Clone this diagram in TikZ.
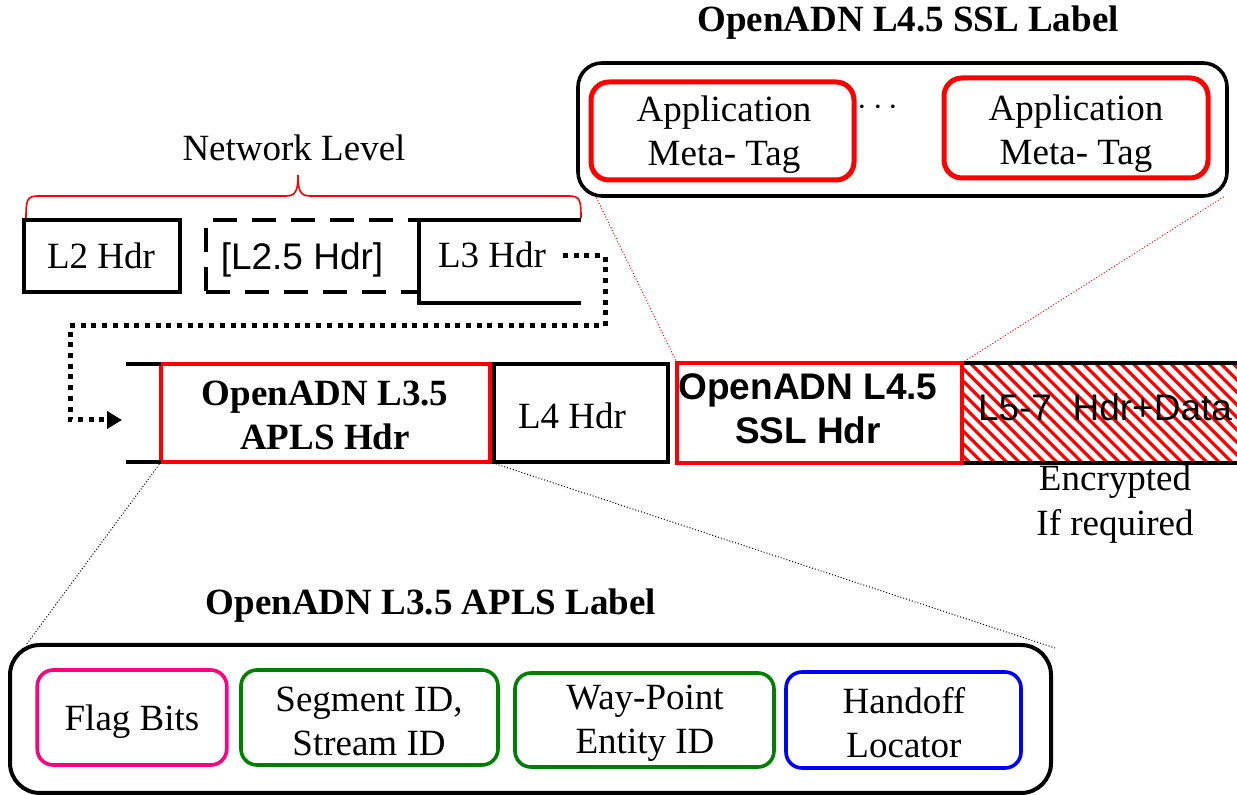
\documentclass[tikz,border=0pt]{standalone}
\usepackage{fontspec}
\setmainfont{Liberation Serif}
\newfontfamily\arialfont{Liberation Sans}
\usetikzlibrary{arrows.meta}

\definecolor{tagred}{RGB}{255,0,0}
\definecolor{flagpink}{RGB}{255,0,128}
\definecolor{idgreen}{RGB}{0,128,0}
\definecolor{locblue}{RGB}{0,0,255}

\begin{document}
\begin{tikzpicture}[x=0.5pt,y=-0.5pt,
  every node/.style={inner sep=0pt, outer sep=0pt},
  serif/.style={font=\fontsize{18.5}{22}\selectfont, align=center},
  serifbold/.style={font=\fontsize{18.5}{22}\selectfont\bfseries, align=center},
  sans/.style={font=\fontsize{18.5}{22}\selectfont\arialfont, align=center},
  sansbold/.style={font=\fontsize{18.5}{22}\selectfont\arialfont\bfseries, align=center},
  hdrbox/.style={draw=black, line width=2pt},
  frame/.style={line width=2pt, black},
  redhdr/.style={draw=tagred, line width=2.3pt},
  outerbox/.style={draw=black, line width=1.8pt, rounded corners=12pt},
  tagbox/.style={draw=tagred, line width=2.5pt, rounded corners=9pt},
  fieldbox/.style={line width=1.8pt, rounded corners=8pt},
  dotarrow/.style={line width=2.5pt, dash pattern=on 2.5pt off 2.85pt,
                   -{Triangle[length=7.5pt,width=8.5pt]}},
  zoomline/.style={line width=0.5pt, densely dotted},
]
\useasboundingbox (0,0) rectangle (1237,795);

% ---------- network level headers ----------
\node[serif] (netlvl) at (294,148) {Network Level};
\draw[tagred, line width=0.8pt]
  (26,218) .. controls (26,200) and (27,196) .. (38,196) -- (286,196)
  .. controls (296,196) and (298,190) .. (298,175)
  .. controls (298,190) and (300,196) .. (310,196) -- (569,196)
  .. controls (580,196) and (581,200) .. (581,218);

\node[hdrbox, minimum width=78pt, minimum height=36pt] (l2) at (102,256) {};
\node[serif] (l2t) at (101,256) {L2 Hdr};

\node[draw=black, line width=2pt, dash pattern=on 12pt off 7.5pt,
      minimum width=106.75pt, minimum height=36pt] (l25) at (312.25,256) {};
\node[sans] (l25t) at (302,260) {[L2.5 Hdr]};

\node[minimum width=81pt, minimum height=41.5pt] (l3) at (500,261.5) {};
\draw[frame] (l3.north east) -- (l3.north west) -- (l3.south west) -- (l3.south east);
\node[serif] (l3t) at (492,255) {L3 Hdr};

% ---------- dotted link down to the packet ----------
\coordinate (d1) at (563,256);
\coordinate (d2) at (605,256);
\coordinate (d3) at (605,326);
\coordinate (d4) at (70,326);
\coordinate (d5) at (70,420);
\coordinate (d6) at (122,420);
\draw[dotarrow] (d1) -- (d2) -- (d3) -- (d4) -- (d5) -- (d6);

% ---------- packet ----------
\coordinate (b1) at (126,364);
\coordinate (b2) at (126,462);

\node[minimum width=141.5pt, minimum height=50pt] (data) at (1103.5,413) {};
\begin{scope}
  \clip (962,363) rectangle (1245,463);
  \foreach \c in {-125,-112.5,...,300}
    \draw[tagred, line width=1.6pt] (962+\c,355) -- ++(116,116);
\end{scope}
\draw[frame] (data.north west) -- (data.north east);
\draw[frame] (data.south west) -- (data.south east);
\node[sans] (datat) at (1105,407) {L5-7\ \ Hdr+Data};
\node[serif, font=\fontsize{18.5}{22.5}\selectfont] (enc) at (1115,504) {Encrypted\\If required};

\node[redhdr, minimum width=164.5pt, minimum height=49pt] (apls) at (325.5,413) {};
\draw[frame] (b1) -- (apls.north west);
\draw[frame] (b2) -- (apls.south west);
\node[serifbold] (aplst) at (325,415) {OpenADN L3.5\\APLS Hdr};

\node[hdrbox, minimum width=87pt, minimum height=49pt] (l4) at (581,413) {};
\node[serif] (l4t) at (572,416) {L4 Hdr};

\node[redhdr, minimum width=142.5pt, minimum height=50pt] (ssl) at (819.5,413) {};
\node[sansbold] (sslt) at (808,409) {OpenADN L4.5\\SSL Hdr};

% ---------- SSL label ----------
\node[serifbold] (ssltitle) at (908,23) {OpenADN L4.5 SSL Label};
\node[outerbox, minimum width=324.5pt, minimum height=66.5pt] (sslbox) at (902.5,129.5) {};
\node[tagbox, minimum width=131.5pt, minimum height=49pt] (tag1) at (722.5,131) {};
\node[serif] (tag1t) at (724,135) {Application\\Meta- Tag};
\node[tagbox, minimum width=132pt, minimum height=50pt] (tag2) at (1076,128) {};
\node[serif] (tag2t) at (1076,134) {Application\\Meta- Tag};
\node[font=\fontsize{16}{19}\selectfont] (dots) at (878,108) {$\cdots$};

\coordinate (s1) at (596,197);
\coordinate (s2) at (1225,196);
\draw[zoomline, tagred] (ssl.north west) -- (s1);
\draw[zoomline, tagred] (ssl.north east) -- (s2);

% ---------- APLS label ----------
\node[serifbold] (aplstitle) at (431,606) {OpenADN L3.5 APLS Label};
\node[outerbox, rounded corners=15pt, line width=2pt,
      minimum width=520.5pt, minimum height=74pt] (aplsbox) at (530.5,719) {};
\node[fieldbox, draw=flagpink, minimum width=94.75pt, minimum height=47.5pt] (flag) at (132,717.5) {};
\node[serif] (flagt) at (132,722) {Flag Bits};
\node[fieldbox, draw=idgreen, minimum width=128.5pt, minimum height=47.5pt] (seg) at (369.5,717.5) {};
\node[serif] (segt) at (369,721) {Segment ID,\\Stream ID};
\node[fieldbox, draw=idgreen, minimum width=129.5pt, minimum height=47pt] (way) at (644.5,720) {};
\node[serif] (wayt) at (645,723) {Way-Point\\Entity ID};
\node[fieldbox, draw=locblue, minimum width=117.5pt, minimum height=48pt] (hand) at (903.5,720) {};
\node[serif] (handt) at (904,723) {Handoff\\Locator};

\coordinate (a1) at (26,645);
\coordinate (a2) at (1055,648);
\draw[zoomline] (apls.south west) -- (a1);
\draw[zoomline] (apls.south east) -- (a2);
\end{tikzpicture}
\end{document}
